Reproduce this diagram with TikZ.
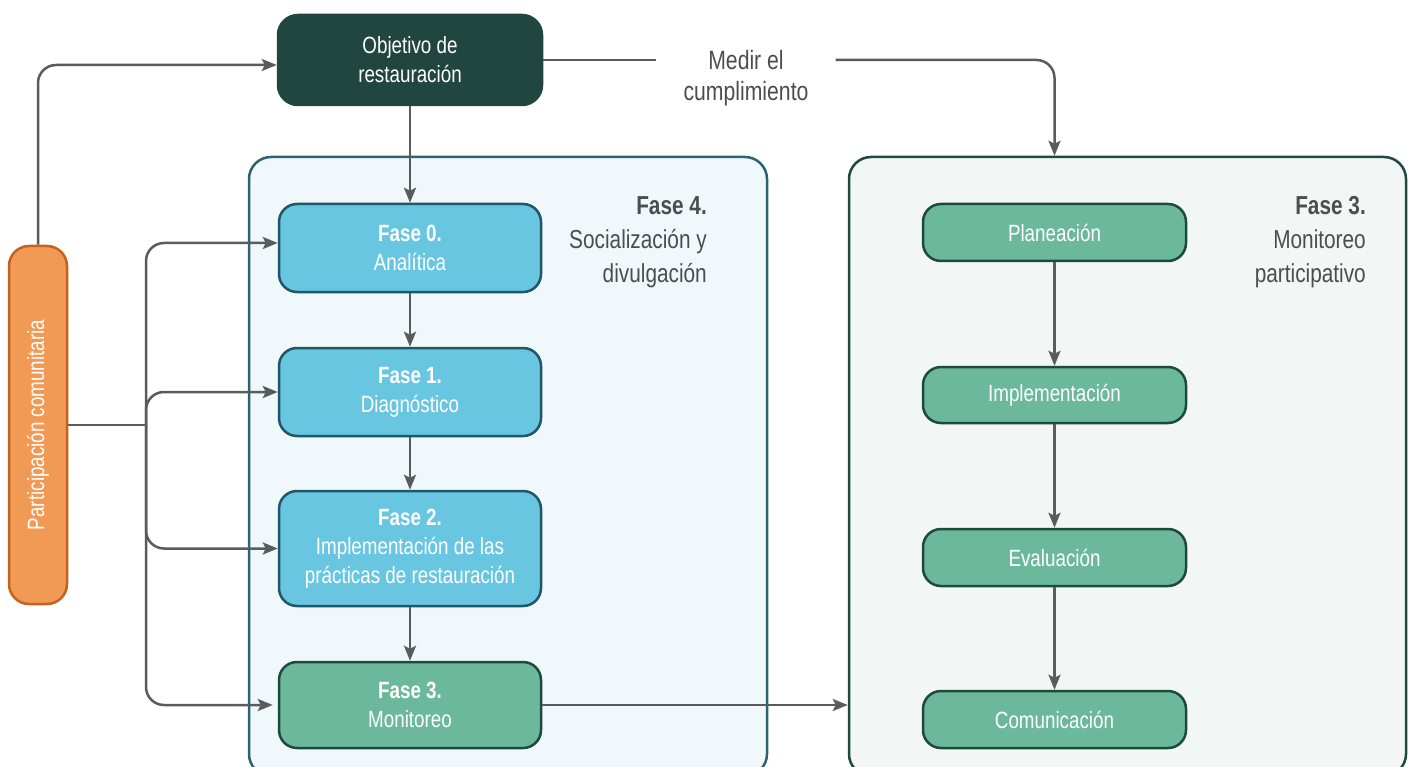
\documentclass[tikz,border=0pt]{standalone}
\usepackage{fontspec}
\setmainfont{Liberation Sans}[FakeStretch=0.8]
\usetikzlibrary{arrows.meta}

\definecolor{objfill}{HTML}{21463F}
\definecolor{linegray}{HTML}{5B5B5B}
\definecolor{bluefill}{HTML}{68C6E1}
\definecolor{blueline}{HTML}{1E5866}
\definecolor{greenfill}{HTML}{6BB99A}
\definecolor{greenline}{HTML}{1D4A3F}
\definecolor{lpanelfill}{HTML}{F0F8FC}
\definecolor{lpanelline}{HTML}{2B6470}
\definecolor{rpanelfill}{HTML}{F2F6F5}
\definecolor{rpanelline}{HTML}{1F4A40}
\definecolor{orangefill}{HTML}{F19A55}
\definecolor{orangeline}{HTML}{C4621E}
\definecolor{labelgray}{HTML}{4D4D4D}

\newcommand\bxfont{\fontsize{23.5}{29}\selectfont}
\newcommand\sidefont{\fontsize{26}{34}\selectfont}
\newcommand\medirfont{\fontsize{26.5}{31}\selectfont}

\begin{document}
\begin{tikzpicture}[x=1pt,y=-1pt,
  conn/.style={draw=linegray, line width=2.5pt, rounded corners=18pt,
    -{Stealth[length=15pt,width=12pt,inset=3pt]}},
  plainline/.style={draw=linegray, line width=2.5pt, rounded corners=18pt},
  box/.style={rounded corners=18pt, line width=2.5pt, minimum width=262pt,
    inner sep=0pt, align=center, text=white, font=\bxfont},
  bluebox/.style={box, fill=bluefill, draw=blueline},
  greenbox/.style={box, fill=greenfill, draw=greenline},
  panel/.style={rounded corners=22pt, line width=2.5pt, minimum height=619pt, inner sep=0pt},
  sidelabel/.style={align=right, text=labelgray, font=\sidefont, inner sep=0pt, anchor=east}
]
\useasboundingbox (0,0) rectangle (1410,767);

% background panels (their lower edge runs past the page)
\begin{scope}
\clip (0,0) rectangle (1410,767);
\node[panel, fill=lpanelfill, draw=lpanelline, minimum width=518pt] (lpanel) at (508,466.5) {};
\node[panel, fill=rpanelfill, draw=rpanelline, minimum width=557pt] (rpanel) at (1127.5,466.5) {};
\end{scope}

% objective
\node[box, fill=objfill, draw=objfill, minimum width=264pt, minimum height=90pt,
  rounded corners=20pt] (obj) at (410,60) {Objetivo de\\restauración};

% community participation bar
\node[rotate=90, fill=orangefill, draw=orangeline, line width=2.5pt, rounded corners=20pt,
  minimum width=358pt, minimum height=58pt, inner sep=0pt, text=white, font=\bxfont]
  (part) at (38,425) {Participación comunitaria};

% phases
\node[bluebox, minimum height=88pt] (f0) at (410,248) {\textbf{Fase 0.}\\Analítica};
\node[bluebox, minimum height=88pt] (f1) at (410,392) {\textbf{Fase 1.}\\Diagnóstico};
\node[bluebox, minimum height=115pt] (f2) at (410,548.5)
  {\textbf{Fase 2.}\\Implementación de las\\prácticas de restauración};
\node[greenbox, minimum height=86pt] (f3) at (410,705) {\textbf{Fase 3.}\\Monitoreo};

% participatory monitoring steps
\node[greenbox, minimum width=263pt, minimum height=57pt] (plan) at (1054.5,232.5) {Planeación};
\node[greenbox, minimum width=263pt, minimum height=56pt] (impl) at (1054.5,395) {Implementación};
\node[greenbox, minimum width=263pt, minimum height=57pt] (eval) at (1054.5,557.5) {Evaluación};
\node[greenbox, minimum width=263pt, minimum height=57pt] (comu) at (1054.5,719.5) {Comunicación};

% panel titles
\node[sidelabel] (lbl4) at (707,242) {\textbf{Fase 4.}\\Socialización y\\divulgación};
\node[sidelabel] (lbl3) at (1366,242) {\textbf{Fase 3.}\\Monitoreo\\participativo};

% measuring label
\node[align=center, text=labelgray, font=\medirfont, inner xsep=27pt, inner ysep=0pt]
  (medir) at (746,78) {Medir el\\cumplimiento};

% connectors
\draw[conn] (part.east) |- ([yshift=-5pt]obj.west);
\coordinate (junc) at (146,425);
\draw[plainline] (part.south) -- (junc);
\draw[conn] (junc) |- ([yshift=5pt]f0.west);
\draw[conn] (junc) |- (f1.west);
\draw[conn] (junc) |- (f2.west);
\draw[conn, shorten >=5pt] (junc) |- (f3.west);

\draw[conn] (obj.south) -- (f0.north);
\draw[conn] (f0.south) -- (f1.north);
\draw[conn] (f1.south) -- (f2.north);
\draw[conn] (f2.south) -- (f3.north);

\draw[plainline] (obj.east) -- (obj.east -| medir.west);
\draw[conn] (obj.east -| medir.east) -| (rpanel.north -| plan.north);

\draw[conn] (f3.east) -- (f3.east -| rpanel.west);

\draw[conn] (plan.south) -- (impl.north);
\draw[conn] (impl.south) -- (eval.north);
\draw[conn] (eval.south) -- (comu.north);
\end{tikzpicture}
\end{document}
